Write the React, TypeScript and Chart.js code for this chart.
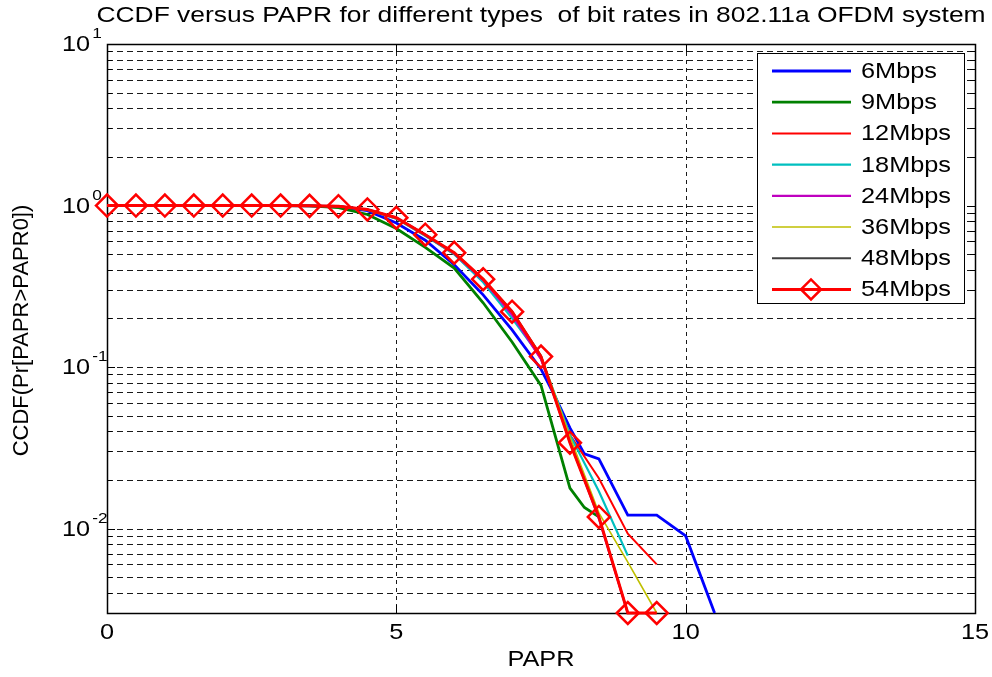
import React, { useEffect, useRef } from 'react';
import { Chart, registerables } from 'chart.js';

Chart.register(...registerables);

const TITLE = 'CCDF versus PAPR for different types  of bit rates in 802.11a OFDM system';
const X_LABEL = 'PAPR';
const Y_LABEL = 'CCDF(Pr[PAPR>PAPR0])';
const X_TICKS = [0, 5, 10, 15];
const Y_EXPONENTS = [-2, -1, 0, 1];
const X_MIN = 0;
const X_MAX = 15;
const Y_MIN = 0.003;
const Y_MAX = 10;

const SERIES_NAMES = ['6Mbps', '9Mbps', '12Mbps', '18Mbps', '24Mbps', '36Mbps', '48Mbps', '54Mbps'];
const SERIES_COLORS = ['#0000ff', '#008000', '#ff0000', '#00bfbf', '#bf00bf', '#bfbf00', '#404040', '#ff0000'];
const SERIES_WIDTHS = [2.8, 2.8, 2, 2.2, 2.2, 1.6, 2, 3];

// PAPR (dB) sample points and CCDF values per bit rate
const papr6 = [0, 0.5, 1, 1.5, 2, 2.5, 3, 3.5, 4, 4.5, 5, 5.5, 6, 6.5, 7, 7.5, 7.75, 8, 8.25, 8.5, 9, 9.5, 10, 10.5];
const ccdf6 = [1, 1, 1, 1, 1, 1, 1, 0.995, 0.98, 0.93, 0.78, 0.61, 0.43, 0.28, 0.17, 0.097, 0.065, 0.042, 0.029, 0.027, 0.0121, 0.0121, 0.009, 0.003];

const papr9 = [0, 0.5, 1, 1.5, 2, 2.5, 3, 3.5, 4, 4.5, 5, 5.5, 6, 6.5, 7, 7.5, 8, 8.25, 8.5];
const ccdf9 = [1, 1, 1, 1, 1, 1, 1, 0.995, 0.97, 0.88, 0.72, 0.55, 0.41, 0.25, 0.143, 0.077, 0.0178, 0.0135, 0.0118];

const papr12 = [0, 0.5, 1, 1.5, 2, 2.5, 3, 3.5, 4, 4.5, 5, 5.5, 6, 6.5, 7, 7.5, 8, 8.5, 9, 9.5];
const ccdf12 = [1, 1, 1, 1, 1, 1, 1, 0.995, 0.99, 0.94, 0.83, 0.65, 0.5, 0.345, 0.215, 0.112, 0.038, 0.0205, 0.0093, 0.006];

const papr18 = [0, 0.5, 1, 1.5, 2, 2.5, 3, 3.5, 4, 4.5, 5, 5.5, 6, 6.5, 7, 7.5, 8, 8.5, 9];
const ccdf18 = [1, 1, 1, 1, 1, 1, 1, 0.995, 0.99, 0.94, 0.83, 0.65, 0.5, 0.335, 0.2, 0.115, 0.038, 0.017, 0.0068];

const papr24 = [0, 0.5, 1, 1.5, 2, 2.5, 3, 3.5, 4, 4.5, 5, 5.5, 6, 6.5, 7, 7.5, 8, 8.5, 9];
const ccdf24 = [1, 1, 1, 1, 1, 1, 1, 0.995, 0.99, 0.945, 0.84, 0.66, 0.505, 0.345, 0.21, 0.112, 0.035, 0.0115, 0.003];

const papr36 = [0, 0.5, 1, 1.5, 2, 2.5, 3, 3.5, 4, 4.5, 5, 5.5, 6, 6.5, 7, 7.5, 8, 8.5, 9, 9.5];
const ccdf36 = [1, 1, 1, 1, 1, 1, 1, 0.995, 0.99, 0.945, 0.84, 0.66, 0.51, 0.35, 0.22, 0.118, 0.037, 0.0125, 0.0062, 0.003];

const papr48 = [0, 0.5, 1, 1.5, 2, 2.5, 3, 3.5, 4, 4.5, 5, 5.5, 6, 6.5, 7, 7.5, 8, 8.5, 9];
const ccdf48 = [1, 1, 1, 1, 1, 1, 1, 0.995, 0.99, 0.945, 0.84, 0.66, 0.51, 0.35, 0.222, 0.117, 0.034, 0.0118, 0.003];

const papr54 = [0, 0.5, 1, 1.5, 2, 2.5, 3, 3.5, 4, 4.5, 5, 5.5, 6, 6.5, 7, 7.5, 8, 8.5, 9, 9.5];
const ccdf54 = [1, 1, 1, 1, 1, 1, 1, 0.995, 0.99, 0.945, 0.84, 0.66, 0.51, 0.35, 0.22, 0.116, 0.034, 0.0118, 0.003, 0.003];

const PAPR_SETS = [papr6, papr9, papr12, papr18, papr24, papr36, papr48, papr54];
const CCDF_SETS = [ccdf6, ccdf9, ccdf12, ccdf18, ccdf24, ccdf36, ccdf48, ccdf54];

const FONT = '"Liberation Sans", Arial, sans-serif';
const FONT_SIZE = 22;
const STRETCH = 1.15;

function stretchedText(
  ctx: CanvasRenderingContext2D,
  text: string,
  x: number,
  y: number,
  size: number,
  align: CanvasTextAlign,
  stretch: number = STRETCH,
) {
  ctx.save();
  ctx.font = `${size}px ${FONT}`;
  ctx.fillStyle = '#000';
  ctx.textAlign = align;
  ctx.textBaseline = 'middle';
  ctx.translate(x, y);
  ctx.scale(stretch, 1);
  ctx.fillText(text, 0, 0);
  ctx.restore();
}

function gridValues(): number[] {
  const vals: number[] = [];
  for (let e = -3; e <= 0; e++) {
    for (let m = 1; m <= 9; m++) {
      const v = m * Math.pow(10, e);
      if (v >= Y_MIN * 0.999 && v <= Y_MAX) vals.push(v);
    }
  }
  vals.push(10);
  return vals;
}

const axesPlugin = {
  id: 'matlabAxes',
  beforeDatasetsDraw(chart: any) {
    const { ctx, chartArea } = chart;
    const { left, right, top, bottom } = chartArea;
    const xs = chart.scales.x;
    const ys = chart.scales.y;
    ctx.save();
    ctx.fillStyle = '#fff';
    ctx.fillRect(left, top, right - left, bottom - top);
    ctx.strokeStyle = '#1a1a1a';
    ctx.lineWidth = 1;
    // horizontal log grid
    ctx.setLineDash([6, 4]);
    for (const v of gridValues()) {
      const py = Math.round(ys.getPixelForValue(v)) + 0.5;
      if (py <= top + 1 || py >= bottom - 1) continue;
      ctx.beginPath();
      ctx.moveTo(left, py);
      ctx.lineTo(right, py);
      ctx.stroke();
    }
    // vertical grid
    ctx.setLineDash([4, 4]);
    for (const t of X_TICKS) {
      const px = Math.round(xs.getPixelForValue(t)) + 0.5;
      if (px <= left + 1 || px >= right - 1) continue;
      ctx.beginPath();
      ctx.moveTo(px, top);
      ctx.lineTo(px, bottom);
      ctx.stroke();
    }
    ctx.setLineDash([]);
    ctx.strokeStyle = '#000';
    // inner tick marks
    for (const v of gridValues()) {
      const py = Math.round(ys.getPixelForValue(v)) + 0.5;
      const major = Math.abs(Math.log10(v) - Math.round(Math.log10(v))) < 1e-6;
      const len = major ? 8 : 5;
      ctx.beginPath();
      ctx.moveTo(left, py);
      ctx.lineTo(left + len, py);
      ctx.moveTo(right, py);
      ctx.lineTo(right - len, py);
      ctx.stroke();
    }
    for (const t of X_TICKS) {
      const px = Math.round(xs.getPixelForValue(t)) + 0.5;
      ctx.beginPath();
      ctx.moveTo(px, bottom);
      ctx.lineTo(px, bottom - 8);
      ctx.moveTo(px, top);
      ctx.lineTo(px, top + 8);
      ctx.stroke();
    }
    // axes box
    ctx.lineWidth = 1.5;
    ctx.strokeRect(Math.round(left) + 0.5, Math.round(top) + 0.5, Math.round(right - left), Math.round(bottom - top));
    ctx.restore();
  },
  afterDraw(chart: any) {
    const { ctx, chartArea } = chart;
    const { left, right, top, bottom } = chartArea;
    const xs = chart.scales.x;
    const ys = chart.scales.y;
    const cx = (left + right) / 2;

    // title
    stretchedText(ctx, TITLE, cx, 16, 22, 'center', 1.2);

    // x tick labels and label
    for (const t of X_TICKS) {
      stretchedText(ctx, String(t), xs.getPixelForValue(t), bottom + 20, FONT_SIZE, 'center');
    }
    stretchedText(ctx, X_LABEL, cx, bottom + 47, FONT_SIZE, 'center');

    // y tick labels: 10 with superscript exponent
    ctx.save();
    ctx.font = `${FONT_SIZE}px ${FONT}`;
    const baseW = ctx.measureText('10').width * STRETCH;
    ctx.restore();
    for (const e of Y_EXPONENTS) {
      const py = ys.getPixelForValue(Math.pow(10, e));
      stretchedText(ctx, '10', 62, py + 1, FONT_SIZE, 'left');
      stretchedText(ctx, String(e), 62 + baseW + 2, py - 10, 15, 'left');
    }

    // y axis label
    ctx.save();
    ctx.translate(22, (top + bottom) / 2 + 2);
    ctx.rotate(-Math.PI / 2);
    ctx.font = `${FONT_SIZE}px ${FONT}`;
    ctx.fillStyle = '#000';
    ctx.textAlign = 'center';
    ctx.textBaseline = 'middle';
    ctx.fillText(Y_LABEL, 0, 0);
    ctx.restore();

    // legend
    const lx = 757.5;
    const ly = 53.5;
    const lw = 207;
    const lh = 250;
    ctx.save();
    ctx.fillStyle = '#fff';
    ctx.fillRect(lx, ly, lw, lh);
    ctx.strokeStyle = '#000';
    ctx.lineWidth = 1;
    ctx.strokeRect(lx, ly, lw, lh);
    SERIES_NAMES.forEach((name, i) => {
      const ry = 71 + i * 31.2;
      ctx.strokeStyle = SERIES_COLORS[i];
      ctx.lineWidth = SERIES_WIDTHS[i];
      ctx.beginPath();
      ctx.moveTo(772, ry);
      ctx.lineTo(851, ry);
      ctx.stroke();
      if (i === SERIES_NAMES.length - 1) {
        ctx.lineWidth = 2.5;
        ctx.beginPath();
        ctx.moveTo(811 - 10, ry);
        ctx.lineTo(811, ry - 10);
        ctx.lineTo(811 + 10, ry);
        ctx.lineTo(811, ry + 10);
        ctx.closePath();
        ctx.stroke();
      }
      stretchedText(ctx, name, 861, ry + 1, FONT_SIZE, 'left');
    });
    ctx.restore();
  },
};

export default function App() {
  const canvasRef = useRef<HTMLCanvasElement | null>(null);

  useEffect(() => {
    const canvas = canvasRef.current;
    if (!canvas) return;
    const n = SERIES_NAMES.length;
    const datasets = SERIES_NAMES.map((name, i) => {
      const last = i === n - 1;
      return {
        label: name,
        data: PAPR_SETS[i].map((x, j) => ({ x, y: CCDF_SETS[i][j] })),
        borderColor: SERIES_COLORS[i],
        backgroundColor: SERIES_COLORS[i],
        borderWidth: SERIES_WIDTHS[i],
        tension: 0,
        fill: false,
        order: n - i,
        clip: false as any,
        pointStyle: 'rectRot' as const,
        pointRadius: last ? 11 : 0,
        pointBorderWidth: 2.5,
        pointBorderColor: SERIES_COLORS[i],
        pointBackgroundColor: 'rgba(255,255,255,0)',
        pointHoverRadius: last ? 11 : 0,
      };
    });

    const chart = new Chart(canvas, {
      type: 'line',
      data: { datasets },
      options: {
        animation: false,
        responsive: false,
        devicePixelRatio: 1,
        events: [],
        layout: { padding: { top: 44, right: 17, left: 0, bottom: 0 } },
        plugins: {
          legend: { display: false },
          tooltip: { enabled: false },
          title: { display: false },
        },
        scales: {
          x: {
            type: 'linear',
            min: X_MIN,
            max: X_MAX,
            grid: { display: false },
            border: { display: false },
            ticks: { display: false },
            afterFit: (s: any) => {
              s.height = 64;
            },
          },
          y: {
            type: 'logarithmic',
            min: Y_MIN,
            max: Y_MAX,
            grid: { display: false },
            border: { display: false },
            ticks: { display: false },
            afterFit: (s: any) => {
              s.width = 107;
            },
          },
        },
      },
      plugins: [axesPlugin],
    });

    return () => chart.destroy();
  }, []);

  return (
    <div style={{ position: 'fixed', left: 0, top: 0, width: 992, height: 677, background: '#fff' }}>
      <canvas ref={canvasRef} width={992} height={677} style={{ display: 'block' }} />
    </div>
  );
}
